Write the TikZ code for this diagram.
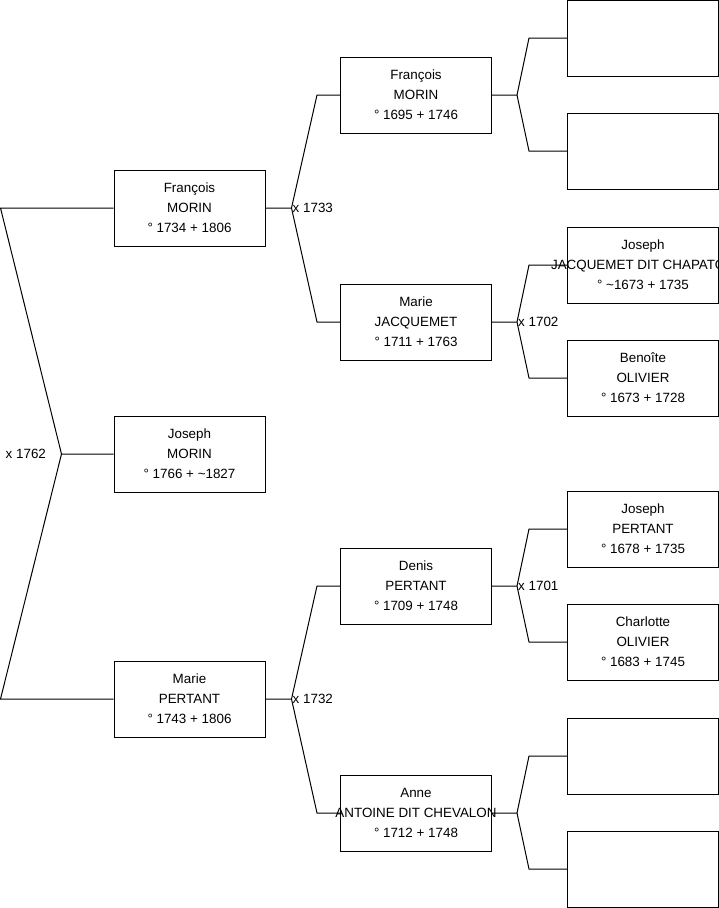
\documentclass[tikz,border=0pt]{standalone}
\usepackage{fontspec}
\setmainfont{Liberation Sans}
\usetikzlibrary{positioning}
\providecommand{\indiv}{}
\renewcommand{\indiv}[3]{\makebox[0pt]{#1}\\\makebox[0pt]{#2}\\\makebox[0pt]{#3}}

\begin{document}
\begin{tikzpicture}[
  x=1pt, y=-1pt, font=\fontsize{13.4}{20}\selectfont,
  pers/.style={draw,line width=1pt,minimum width=151pt,minimum height=76pt,inner sep=0pt,align=center},
  ln/.style={line width=1pt},
  wed/.style={right,inner sep=1pt}]
\useasboundingbox (0,0) rectangle (719,908);

\node[pers] (p) at (189.5,454) {\indiv{Joseph}{MORIN}{° 1766 + \textasciitilde1827}};
\node[pers] (f) at (189.5,208) {\indiv{François}{MORIN}{° 1734 + 1806}};
\node[pers] (m) at (189.5,699) {\indiv{Marie}{PERTANT}{° 1743 + 1806}};

\node[pers] (ff) at (416,95) {\indiv{François}{MORIN}{° 1695 + 1746}};
\node[pers] (fm) at (416,322) {\indiv{Marie}{JACQUEMET}{° 1711 + 1763}};
\node[pers] (mf) at (416,586) {\indiv{Denis}{PERTANT}{° 1709 + 1748}};
\node[pers] (mm) at (416,813) {\indiv{Anne}{ANTOINE DIT CHEVALON}{° 1712 + 1748}};

\node[pers] (fff) at (643,38) {};
\node[pers] (ffm) at (643,151) {};
\node[pers] (fmf) at (643,265) {\indiv{Joseph}{JACQUEMET DIT CHAPATON}{° \textasciitilde1673 + 1735}};
\node[pers] (fmm) at (643,378) {\indiv{Benoîte}{OLIVIER}{° 1673 + 1728}};
\node[pers] (mff) at (643,529) {\indiv{Joseph}{PERTANT}{° 1678 + 1735}};
\node[pers] (mfm) at (643,642) {\indiv{Charlotte}{OLIVIER}{° 1683 + 1745}};
\node[pers] (mmf) at (643,756) {};
\node[pers] (mmm) at (643,869) {};

\coordinate (p-w) at ([xshift=-52pt]p.west);
\draw[ln] (p.west) -- (p-w) -- ([xshift=-113pt]f.west) -- (f.west);
\draw[ln] (p-w) -- ([xshift=-113pt]m.west) -- (m.west);
\node[left=12pt] (w1762) at (p-w) {x 1762};

\foreach \k/\a/\b/\s/\d in {f/ff/fm/26/23,m/mf/mm/26/23,ff/fff/ffm/25/38,fm/fmf/fmm/25/38,mf/mff/mfm/25/38,mm/mmf/mmm/25/38} {
  \coordinate (\k-w) at ([xshift=\s pt]\k.east);
  \draw[ln] (\k.east) -- (\k-w) -- ([xshift=-\d pt]\a.west) -- (\a.west);
  \draw[ln] (\k-w) -- ([xshift=-\d pt]\b.west) -- (\b.west);
}

\node[wed] (w1733) at (f-w) {x 1733};
\node[wed] (w1732) at (m-w) {x 1732};
\node[wed] (w1702) at (fm-w) {x 1702};
\node[wed] (w1701) at (mf-w) {x 1701};
\end{tikzpicture}
\end{document}
